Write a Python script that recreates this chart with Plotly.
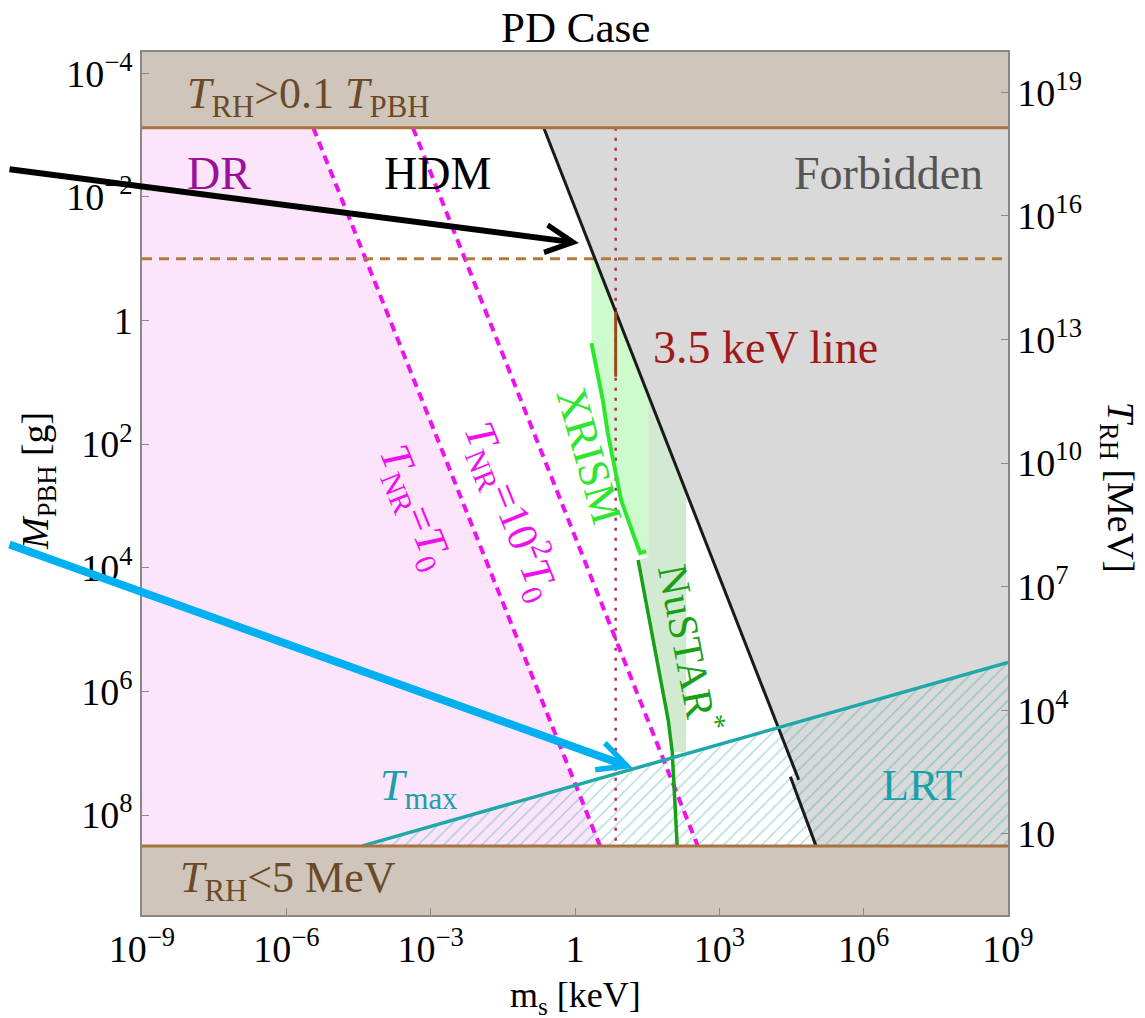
import numpy as np
import plotly.graph_objects as go

SERIF = "Liberation Serif"

# ---------------- axis extents (log10 units) ----------------
x_range_log = [-9, 9]              # m_s [keV]
y_range_log = [9.618, -4.345]      # M_PBH [g] (reversed: small masses on top)
t_range_log = [-0.967, 19.977]     # T_RH [MeV]

# ---------------- ticks ----------------
x_ticks = [1e-9, 1e-6, 1e-3, 1, 1e3, 1e6, 1e9]
x_ticktext = ["10<sup>−9</sup>", "10<sup>−6</sup>", "10<sup>−3</sup>", "1",
              "10<sup>3</sup>", "10<sup>6</sup>", "10<sup>9</sup>"]
y_ticks = [1e-4, 1e-2, 1, 1e2, 1e4, 1e6, 1e8]
y_ticktext = ["10<sup>−4</sup>", "10<sup>−2</sup>", "1", "10<sup>2</sup>",
              "10<sup>4</sup>", "10<sup>6</sup>", "10<sup>8</sup>"]
t_ticks = [1e19, 1e16, 1e13, 1e10, 1e7, 1e4, 10]
t_ticktext = ["10<sup>19</sup>", "10<sup>16</sup>", "10<sup>13</sup>", "10<sup>10</sup>",
              "10<sup>7</sup>", "10<sup>4</sup>", "10"]

# ---------------- boundaries (M_PBH in g) ----------------
M_top_bound = 7.6e-4     # T_RH > 0.1 T_PBH
M_bot_bound = 3.16e8     # T_RH < 5 MeV
M_dashed = 0.1           # brown dashed line
m_min, m_max = 1e-9, 1e9
M_outer_top, M_outer_bot = 1e-5, 1e10

# forbidden-region boundary (black line, with a small break)
black_upper_m = [0.224, 4.47e4]
black_upper_M = [7.6e-4, 2.7e7]
black_lower_m = [3.0e4, 1.02e5]
black_lower_M = [2.4e7, 3.16e8]

# T_NR lines
nr1_m = [3.63e-6, 3.31]
nr1_M = [7.6e-4, 3.16e8]
nr2_m = [4.27e-4, 355.0]
nr2_M = [7.6e-4, 3.16e8]

# 3.5 keV line (m_s = 7 keV)
m_35 = 7.0
dotted_M = [7.6e-4, 3.16e8]
seg35_M = [0.72, 8.1]

# T_max line
tmax_m = [3.8e-5, 1e9]
tmax_M = [3.16e8, 3.39e5]

# XRISM and NuSTAR bounds
xrism_m = [2.2, 3.78, 4.80, 6.59, 9.08, 15.9, 22.6, 30.1]
xrism_M = [2.31, 19.3, 66.1, 234, 802, 2740, 5780, 5370]
nustar_m = [20.5, 42.2, 86.6, 105, 115.5, 133]
nustar_M = [7500, 1.48e5, 2.91e6, 9.6e6, 3.95e7, 3.16e8]

# shaded regions
xr_fill_m = [2.2, 2.61, 33.2, 33.2, 22.6, 15.9, 9.08, 6.59, 4.80, 3.78, 2.2]
xr_fill_M = [0.1, 0.1, 15.7, 6700, 5780, 2740, 802, 234, 66.1, 19.3, 2.31]
nu_fill_m = [33.2, 205, 205, 105, 86.6, 42.2, 20.5, 33.2]
nu_fill_M = [15.7, 589, 9.6e6, 9.6e6, 2.91e6, 1.48e5, 7500, 6700]

pink_m = [m_min, nr1_m[0], nr1_m[1], m_min]
pink_M = [M_top_bound, M_top_bound, M_bot_bound, M_bot_bound]
gray_m = [black_upper_m[0], m_max, m_max, black_lower_m[1], black_lower_m[0], black_upper_m[1]]
gray_M = [M_top_bound, M_top_bound, M_bot_bound, M_bot_bound, black_lower_M[0], black_upper_M[1]]
hatch_m = [tmax_m[0], tmax_m[1], m_max]
hatch_M = [tmax_M[0], tmax_M[1], M_bot_bound]

fig = go.Figure()


def poly(xs, ys, color):
    fig.add_trace(go.Scatter(x=xs, y=ys, fill="toself", fillcolor=color, mode="lines",
                             line=dict(width=0), hoverinfo="skip", showlegend=False))


def line(xs, ys, color, width, dash="solid"):
    fig.add_trace(go.Scatter(x=xs, y=ys, mode="lines", line=dict(color=color, width=width, dash=dash),
                             hoverinfo="skip", showlegend=False))


# regions
poly(pink_m, pink_M, "#fce4fa")
poly(gray_m, gray_M, "#d9d9d9")
poly(xr_fill_m, xr_fill_M, "#cefbce")
poly(nu_fill_m, nu_fill_M, "#d2ead2")
fig.add_trace(go.Scatter(x=hatch_m, y=hatch_M, fill="toself", fillcolor="rgba(0,0,0,0)", mode="lines",
                         line=dict(width=0), hoverinfo="skip", showlegend=False,
                         fillpattern=dict(shape="/", fgcolor="rgba(40,165,170,0.8)",
                                          bgcolor="rgba(0,0,0,0)", size=9, solidity=0.16)))
# brown bands
poly([m_min / 10, m_max * 10, m_max * 10, m_min / 10],
     [M_outer_top, M_outer_top, M_top_bound, M_top_bound], "#cfc5bb")
poly([m_min / 10, m_max * 10, m_max * 10, m_min / 10],
     [M_bot_bound, M_bot_bound, M_outer_bot, M_outer_bot], "#cfc5bb")

# lines
line(nr1_m, nr1_M, "#ee11ee", 4, "9px,6px")
line(nr2_m, nr2_M, "#ee11ee", 4, "9px,6px")
line([m_35, m_35], dotted_M, "#b03050", 2.5, "3px,7px")
line([m_min, m_max], [M_dashed, M_dashed], "#b07c3c", 3, "10px,7px")
line(black_upper_m, black_upper_M, "#1a1a1a", 3)
line(black_lower_m, black_lower_M, "#1a1a1a", 3)
line([m_35, m_35], seg35_M, "#9a4a1a", 3)
line(xrism_m, xrism_M, "#2ee62e", 4)
line(nustar_m, nustar_M, "#19a019", 3.5)
line(tmax_m, tmax_M, "#20a8a8", 3.5)
line([m_min, m_max], [M_top_bound, M_top_bound], "#a8733f", 3)
line([m_min, m_max], [M_bot_bound, M_bot_bound], "#a8733f", 3)

# dummy trace for the right axis
fig.add_trace(go.Scatter(x=[1], y=[1e10], yaxis="y2", mode="markers", marker=dict(opacity=0),
                         hoverinfo="skip", showlegend=False))

ann = []


def label(text, m, M, size, color, xanchor="center", angle=0):
    ann.append(dict(text=text, x=np.log10(m), y=np.log10(M), xref="x", yref="y", showarrow=False,
                    xanchor=xanchor, yanchor="middle", textangle=angle,
                    font=dict(family=SERIF, size=size, color=color)))


label("<i>T</i><sub>RH</sub>&gt;0.1 <i>T</i><sub>PBH</sub>", 10 ** -8.1, 10 ** -3.63, 44, "#6b4a2a", "left")
label("<i>T</i><sub>RH</sub>&lt;5 MeV", 10 ** -8.25, 10 ** 9.06, 44, "#6b4a2a", "left")
label("DR", 10 ** -8.1, 10 ** -2.38, 46, "#9a109a", "left")
label("HDM", 10 ** -2.854, 10 ** -2.38, 46, "black")
label("Forbidden", 10 ** 8.52, 10 ** -2.38, 46, "#555555", "right")
label("3.5 keV line", 10 ** 1.583, 10 ** 0.43, 46, "#a01818", "left")
label("<i>T</i><sub>max</sub>", 10 ** -4.104, 10 ** 7.565, 44, "#1aa0a8", "left")
label("LRT", 10 ** 7.23, 10 ** 7.516, 44, "#1aa0a8")
label("<i>T</i><sub>NR</sub>=<i>T</i><sub>0</sub>", 10 ** -3.35, 10 ** 3.03, 43, "#ee11ee", angle=68)
label("<i>T</i><sub>NR</sub>=10<sup>2</sup><i>T</i><sub>0</sub>", 10 ** -1.3, 10 ** 3.07, 43, "#ee11ee", angle=68)
label("XRISM", 10 ** 0.292, 10 ** 2.18, 44, "#2ee62e", angle=74)
label("NuSTAR<sup>*</sup>", 10 ** 2.417, 10 ** 5.30, 42, "#19a019", angle=79)

# arrows (tip in data coordinates, tail offset in pixels)
ann.append(dict(text="", x=np.log10(1.21), y=np.log10(0.0557), xref="x", yref="y", showarrow=True,
                ax=-620, ay=-74, axref="pixel", ayref="pixel", arrowhead=5, arrowsize=0.9,
                arrowwidth=6, arrowcolor="black"))
ann.append(dict(text="", x=np.log10(15.85), y=np.log10(1.74e7), xref="x", yref="y", showarrow=True,
                ax=-680, ay=-224, axref="pixel", ayref="pixel", arrowhead=5, arrowsize=0.7,
                arrowwidth=8, arrowcolor="#00b0f0"))

# titles
ann.append(dict(text="PD Case", x=0.5, y=1.058, xref="paper", yref="paper", showarrow=False,
                xanchor="center", yanchor="top", font=dict(family=SERIF, size=43, color="black")))
ann.append(dict(text="m<sub>s</sub> [keV]", x=0.5, y=-0.0955, xref="paper", yref="paper", showarrow=False,
                xanchor="center", yanchor="middle", font=dict(family=SERIF, size=36, color="black")))
ann.append(dict(text="<i>M</i><sub>PBH</sub> [g]", x=-0.12, y=0.503, xref="paper", yref="paper",
                showarrow=False, xanchor="center", yanchor="middle", textangle=-90,
                font=dict(family=SERIF, size=38, color="black")))
ann.append(dict(text="<i>T</i><sub>RH</sub> [MeV]", x=1.127, y=0.495, xref="paper", yref="paper",
                showarrow=False, xanchor="center", yanchor="middle", textangle=90,
                font=dict(family=SERIF, size=38, color="black")))

axis_common = dict(type="log", showgrid=False, zeroline=False, ticks="inside", ticklen=7,
                   tickcolor="#888888", tickwidth=1.2, showline=True, linecolor="#888888", linewidth=1.5,
                   tickfont=dict(family=SERIF, size=38, color="black"))

# page body adds an 8 px offset, margins compensate so the plot area sits at x 142-1008, y 52-915
fig.update_layout(
    width=1145, height=1018,
    margin=dict(l=134, r=145, t=44, b=111, autoexpand=False),
    paper_bgcolor="white", plot_bgcolor="white",
    showlegend=False,
    xaxis=dict(range=x_range_log, tickvals=x_ticks, ticktext=x_ticktext, mirror=True, **axis_common),
    yaxis=dict(range=y_range_log, tickvals=y_ticks, ticktext=y_ticktext, mirror=True, **axis_common),
    yaxis2=dict(range=t_range_log, tickvals=t_ticks, ticktext=t_ticktext, overlaying="y", side="right",
                **axis_common),
    annotations=ann,
)

fig.write_html("out.html")
